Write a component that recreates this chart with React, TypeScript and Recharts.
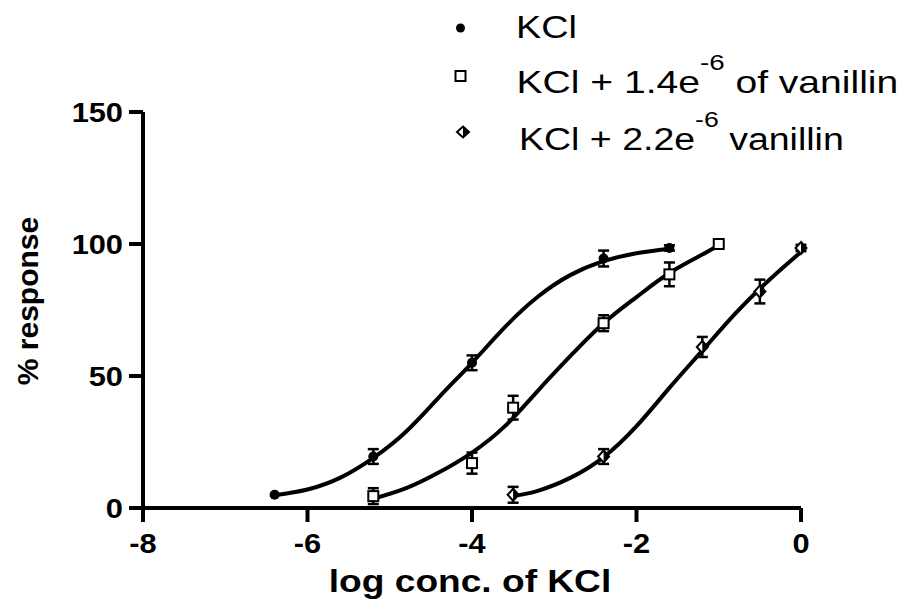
import React from 'react'
import { ComposedChart, Line, Scatter, ErrorBar, XAxis, YAxis, Label, Legend } from 'recharts'

const FONT = "'Liberation Sans', Arial, sans-serif"

const kclX = [-6.4, -5.2, -4.0, -2.4, -1.6]
const kclY = [5, 19.5, 55, 94.5, 98.5]
const kclErr = [0, 2.8, 2.8, 3, 1]

const van14X = [-5.2, -4.0, -3.5, -2.4, -1.6, -1.0]
const van14Y = [4.5, 17, 38, 70, 88.5, 100]
const van14Err = [3, 4, 4.5, 3, 4.5, 0]

const van22X = [-3.5, -2.4, -1.2, -0.5, 0]
const van22Y = [5, 19.5, 61, 82, 98.5]
const van22Err = [3, 2.8, 3.8, 4.5, 1.2]

// fitted curves
const kclFitX = [-6.4, -6.0, -5.6, -5.2, -4.8, -4.4, -4.0, -3.6, -3.2, -2.8, -2.4, -2.0, -1.6]
const kclFitY = [4.8, 7, 11.5, 19, 29, 42, 55, 68.5, 80, 88.3, 93.5, 96.5, 98.2]

const van14FitX = [-5.2, -4.8, -4.4, -4.0, -3.6, -3.2, -2.8, -2.4, -2.0, -1.6, -1.2, -1.0]
const van14FitY = [3.5, 7.5, 13.5, 21, 31, 44.4, 57.7, 70, 79.9, 89, 96, 99.5]

const van22FitX = [-3.5, -3.2, -2.8, -2.4, -2.0, -1.6, -1.2, -0.8, -0.4, 0]
const van22FitY = [4.5, 6.5, 11.5, 19.3, 31, 45.5, 59.6, 73.6, 86, 97]

const xTicks = [-8, -6, -4, -2, 0]
const yTicks = [0, 50, 100, 150]

const legendMain = ['KCl', 'KCl + 1.4e', 'KCl + 2.2e']
const legendSup = ['', '-6', '-6']
const legendTail = ['', ' of vanillin', ' vanillin']

const toPoints = (xs: number[], ys: number[], es?: number[]) =>
  xs.map((x, i) => ({ x, y: ys[i], err: es ? es[i] : 0 }))

const kclPts = toPoints(kclX, kclY, kclErr)
const van14Pts = toPoints(van14X, van14Y, van14Err)
const van22Pts = toPoints(van22X, van22Y, van22Err)
const kclFit = toPoints(kclFitX, kclFitY)
const van14Fit = toPoints(van14FitX, van14FitY)
const van22Fit = toPoints(van22FitX, van22FitY)

const Dot = ({ cx, cy, r = 5 }: any) => <circle cx={cx} cy={cy} r={r} fill="#000" />

const Square = ({ cx, cy, s = 10 }: any) => (
  <rect x={cx - s / 2} y={cy - s / 2} width={s} height={s} fill="#fff" stroke="#000" strokeWidth={2} />
)

const Diamond = ({ cx, cy, w = 5.5, h = 6 }: any) => (
  <g>
    <polygon points={`${cx},${cy - h} ${cx + w},${cy} ${cx},${cy + h} ${cx - w},${cy}`} fill="#fff" stroke="#000" strokeWidth={2} />
    <polygon points={`${cx},${cy - h} ${cx + w},${cy} ${cx},${cy + h}`} fill="#000" />
  </g>
)

const XTick = ({ x, y, payload }: any) => (
  <g transform={`translate(${x},${y}) scale(1.1,1)`}>
    <text x={0} y={0} dy="0.71em" textAnchor="middle" fontSize={28} fontWeight="bold" fontFamily={FONT} fill="#000">
      {payload.value}
    </text>
  </g>
)

const YTick = ({ x, y, payload }: any) => (
  <g transform={`translate(${x},${y}) scale(1.1,1)`}>
    <text x={0} y={0} dy="0.355em" textAnchor="end" fontSize={28} fontWeight="bold" fontFamily={FONT} fill="#000">
      {payload.value}
    </text>
  </g>
)

const XTitle = ({ viewBox }: any) => (
  <g transform={`translate(${viewBox.x + viewBox.width / 2 - 2},${viewBox.y + 84}) scale(1.16,1)`}>
    <text x={0} y={0} textAnchor="middle" fontSize={32} fontWeight="bold" fontFamily={FONT} fill="#000">
      log conc. of KCl
    </text>
  </g>
)

const YTitle = ({ viewBox }: any) => {
  const cx = 37.5
  const cy = viewBox.y + viewBox.height / 2 - 9
  return (
    <text x={cx} y={cy} transform={`rotate(-90, ${cx}, ${cy})`} textAnchor="middle" fontSize={30} fontWeight="bold" fontFamily={FONT} fill="#000">
      % response
    </text>
  )
}

const legendRows = [
  { sym: <Dot cx={460.5} cy={28} r={4.5} />, x: 516, y: 38, sx: 1.22 },
  { sym: <Square cx={460.5} cy={76} s={10} />, x: 516.5, y: 93, sx: 1.26 },
  { sym: <Diamond cx={463} cy={132} w={6} h={5.5} />, x: 519, y: 149.5, sx: 1.21 },
]

const LegendBox = () => (
  <div style={{ position: 'relative', height: 0 }}>
    <svg width={901} height={170} style={{ position: 'absolute', left: 0, top: 0 }}>
      {legendRows.map((r, i) => (
        <g key={i}>
          {r.sym}
          <g transform={`translate(${r.x},${r.y}) scale(${r.sx},1)`}>
            <text x={0} y={0} fontSize={31} fontFamily={FONT} fill="#000" style={{ whiteSpace: 'pre' }}>
              {legendMain[i]}
              {legendSup[i] && (
                <tspan dy={-23} fontSize={22}>{legendSup[i]}</tspan>
              )}
              {legendTail[i] && (
                <tspan dy={23} fontSize={31}>{legendTail[i]}</tspan>
              )}
            </text>
          </g>
        </g>
      ))}
    </svg>
  </div>
)

const App = () => {
  const axisLine = { stroke: '#000', strokeWidth: 4 }
  return (
    <div style={{ position: 'absolute', left: 0, top: 0, width: 901, height: 600, background: '#fff' }}>
      <ComposedChart width={901} height={600} margin={{ top: 112, right: 100, left: 0, bottom: 0 }}>
        <XAxis
          type="number"
          dataKey="x"
          domain={[-8, 0]}
          ticks={xTicks}
          height={92}
          axisLine={axisLine}
          tickLine={axisLine}
          tickSize={14}
          tickMargin={11}
          tick={<XTick />}
        >
          <Label content={<XTitle />} />
        </XAxis>
        <YAxis
          type="number"
          dataKey="y"
          domain={[0, 150]}
          ticks={yTicks}
          width={143}
          axisLine={axisLine}
          tickLine={axisLine}
          tickSize={14}
          tickMargin={6}
          tick={<YTick />}
        >
          <Label content={<YTitle />} />
        </YAxis>
        <Legend content={<LegendBox />} wrapperStyle={{ left: 0, top: 0, width: 901 }} />

        <Scatter name="KCl" data={kclPts} dataKey="y" shape={<Dot />} isAnimationActive={false}>
          <ErrorBar dataKey="err" direction="y" width={5.5} stroke="#000" strokeWidth={2.5} />
        </Scatter>
        <Scatter name="KCl + 1.4e-6 of vanillin" data={van14Pts} dataKey="y" shape={<Square />} isAnimationActive={false}>
          <ErrorBar dataKey="err" direction="y" width={5.5} stroke="#000" strokeWidth={2.5} />
        </Scatter>
        <Scatter name="KCl + 2.2e-6 vanillin" data={van22Pts} dataKey="y" shape={<Diamond />} isAnimationActive={false}>
          <ErrorBar dataKey="err" direction="y" width={5.5} stroke="#000" strokeWidth={2.5} />
        </Scatter>

        <Line data={kclFit} dataKey="y" type="natural" stroke="#000" strokeWidth={4} dot={false} activeDot={false} legendType="none" isAnimationActive={false} />
        <Line data={van14Fit} dataKey="y" type="natural" stroke="#000" strokeWidth={4} dot={false} activeDot={false} legendType="none" isAnimationActive={false} />
        <Line data={van22Fit} dataKey="y" type="natural" stroke="#000" strokeWidth={4} dot={false} activeDot={false} legendType="none" isAnimationActive={false} />
      </ComposedChart>
    </div>
  )
}

export default App
